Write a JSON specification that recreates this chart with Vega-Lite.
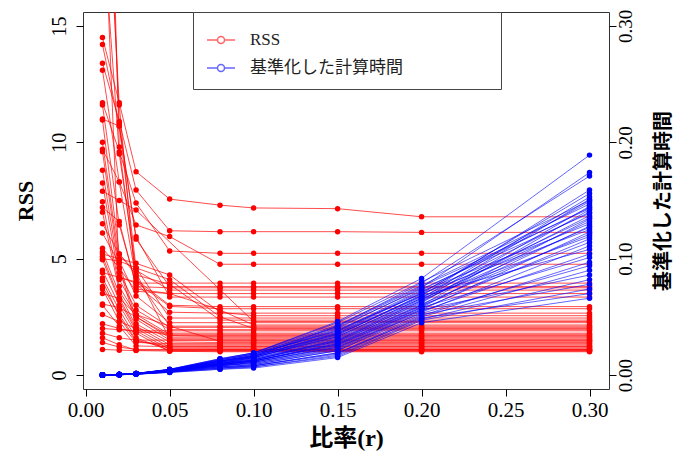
{
"$schema": "https://vega.github.io/schema/vega-lite/v6.json",
"width": 526, "height": 377,
"autosize": {"type": "none"},
"padding": {"left": 83, "top": 12, "right": 65, "bottom": 68},
"background": "white",
"datasets": {
"rss": [
{"s":"r1","r":0.01,"v":14.5},{"s":"r1","r":0.02,"v":11.7},{"s":"r1","r":0.03,"v":8.74},{"s":"r1","r":0.05,"v":7.56},{"s":"r1","r":0.08,"v":7.3},{"s":"r1","r":0.1,"v":7.18},{"s":"r1","r":0.15,"v":7.15},{"s":"r1","r":0.2,"v":6.8},{"s":"r1","r":0.3,"v":6.8},
{"s":"r2","r":0.01,"v":13.4},{"s":"r2","r":0.02,"v":10.9},{"s":"r2","r":0.03,"v":7.95},{"s":"r2","r":0.05,"v":6.2},{"s":"r2","r":0.08,"v":6.16},{"s":"r2","r":0.1,"v":6.16},{"s":"r2","r":0.15,"v":6.16},{"s":"r2","r":0.2,"v":6.13},{"s":"r2","r":0.3,"v":6.13},
{"s":"r3","r":0.01,"v":11.7},{"s":"r3","r":0.02,"v":9.6},{"s":"r3","r":0.03,"v":7.39},{"s":"r3","r":0.05,"v":5.33},{"s":"r3","r":0.08,"v":5.23},{"s":"r3","r":0.1,"v":5.23},{"s":"r3","r":0.15,"v":5.23},{"s":"r3","r":0.2,"v":5.23},{"s":"r3","r":0.3,"v":5.23},
{"s":"r4","r":0.01,"v":9.7},{"s":"r4","r":0.02,"v":8.3},{"s":"r4","r":0.03,"v":6.45},{"s":"r4","r":0.05,"v":5.95},{"s":"r4","r":0.08,"v":4.76},{"s":"r4","r":0.1,"v":4.76},{"s":"r4","r":0.15,"v":4.76},{"s":"r4","r":0.2,"v":4.76},{"s":"r4","r":0.3,"v":4.76},
{"s":"r5","r":0.01,"v":22.0},{"s":"r5","r":0.02,"v":4.2},{"s":"r5","r":0.03,"v":3.95},{"s":"r5","r":0.05,"v":3.95},{"s":"r5","r":0.08,"v":3.95},{"s":"r5","r":0.1,"v":3.95},{"s":"r5","r":0.15,"v":3.95},{"s":"r5","r":0.2,"v":3.95},{"s":"r5","r":0.3,"v":3.95},
{"s":"r6","r":0.01,"v":28.0},{"s":"r6","r":0.02,"v":10.8},{"s":"r6","r":0.03,"v":5.84},{"s":"r6","r":0.05,"v":3.8},{"s":"r6","r":0.08,"v":3.8},{"s":"r6","r":0.1,"v":3.8},{"s":"r6","r":0.15,"v":3.8},{"s":"r6","r":0.2,"v":3.8},{"s":"r6","r":0.3,"v":3.8},
{"s":"r7","r":0.01,"v":19.5},{"s":"r7","r":0.02,"v":9.5},{"s":"r7","r":0.03,"v":4.5},{"s":"r7","r":0.05,"v":3.65},{"s":"r7","r":0.08,"v":3.65},{"s":"r7","r":0.1,"v":3.65},{"s":"r7","r":0.15,"v":3.65},{"s":"r7","r":0.2,"v":3.65},{"s":"r7","r":0.3,"v":3.65},
{"s":"r8","r":0.01,"v":25.0},{"s":"r8","r":0.02,"v":11.6},{"s":"r8","r":0.03,"v":3.7},{"s":"r8","r":0.05,"v":3.5},{"s":"r8","r":0.08,"v":3.5},{"s":"r8","r":0.1,"v":3.5},{"s":"r8","r":0.15,"v":3.5},{"s":"r8","r":0.2,"v":3.5},{"s":"r8","r":0.3,"v":3.5},
{"s":"r9","r":0.01,"v":14.2},{"s":"r9","r":0.02,"v":10.7},{"s":"r9","r":0.03,"v":5.94},{"s":"r9","r":0.05,"v":3.35},{"s":"r9","r":0.08,"v":3.35},{"s":"r9","r":0.1,"v":3.35},{"s":"r9","r":0.15,"v":3.35},{"s":"r9","r":0.2,"v":3.35},{"s":"r9","r":0.3,"v":3.35},
{"s":"r10","r":0.01,"v":13.1},{"s":"r10","r":0.02,"v":8.3},{"s":"r10","r":0.03,"v":4.1},{"s":"r10","r":0.05,"v":3.0},{"s":"r10","r":0.08,"v":2.94},{"s":"r10","r":0.1,"v":2.94},{"s":"r10","r":0.15,"v":2.94},{"s":"r10","r":0.2,"v":2.94},{"s":"r10","r":0.3,"v":2.94},
{"s":"r11","r":0.01,"v":11.6},{"s":"r11","r":0.02,"v":6.45},{"s":"r11","r":0.03,"v":3.9},{"s":"r11","r":0.05,"v":2.7},{"s":"r11","r":0.08,"v":2.66},{"s":"r11","r":0.1,"v":2.66},{"s":"r11","r":0.15,"v":2.66},{"s":"r11","r":0.2,"v":2.66},{"s":"r11","r":0.3,"v":2.66},
{"s":"r12","r":0.01,"v":10.96},{"s":"r12","r":0.02,"v":5.2},{"s":"r12","r":0.03,"v":4.3},{"s":"r12","r":0.05,"v":3.9},{"s":"r12","r":0.08,"v":2.36},{"s":"r12","r":0.1,"v":2.36},{"s":"r12","r":0.15,"v":2.36},{"s":"r12","r":0.2,"v":2.36},{"s":"r12","r":0.3,"v":2.36},
{"s":"r13","r":0.01,"v":10.0},{"s":"r13","r":0.02,"v":4.9},{"s":"r13","r":0.03,"v":3.4},{"s":"r13","r":0.05,"v":2.25},{"s":"r13","r":0.08,"v":2.25},{"s":"r13","r":0.1,"v":2.25},{"s":"r13","r":0.15,"v":2.25},{"s":"r13","r":0.2,"v":2.25},{"s":"r13","r":0.3,"v":2.25},
{"s":"r14","r":0.01,"v":9.6},{"s":"r14","r":0.02,"v":4.6},{"s":"r14","r":0.03,"v":3.6},{"s":"r14","r":0.05,"v":3.5},{"s":"r14","r":0.08,"v":2.8},{"s":"r14","r":0.1,"v":2.15},{"s":"r14","r":0.15,"v":2.15},{"s":"r14","r":0.2,"v":2.15},{"s":"r14","r":0.3,"v":2.15},
{"s":"r15","r":0.01,"v":8.8},{"s":"r15","r":0.02,"v":4.4},{"s":"r15","r":0.03,"v":3.0},{"s":"r15","r":0.05,"v":2.05},{"s":"r15","r":0.08,"v":2.05},{"s":"r15","r":0.1,"v":2.05},{"s":"r15","r":0.15,"v":2.05},{"s":"r15","r":0.2,"v":2.05},{"s":"r15","r":0.3,"v":2.05},
{"s":"r16","r":0.01,"v":8.25},{"s":"r16","r":0.02,"v":4.1},{"s":"r16","r":0.03,"v":2.8},{"s":"r16","r":0.05,"v":1.95},{"s":"r16","r":0.08,"v":1.95},{"s":"r16","r":0.1,"v":1.95},{"s":"r16","r":0.15,"v":1.95},{"s":"r16","r":0.2,"v":1.95},{"s":"r16","r":0.3,"v":1.95},
{"s":"r17","r":0.01,"v":7.9},{"s":"r17","r":0.02,"v":7.5},{"s":"r17","r":0.03,"v":7.09},{"s":"r17","r":0.1,"v":2.3},{"s":"r17","r":0.15,"v":2.3},{"s":"r17","r":0.2,"v":2.3},{"s":"r17","r":0.3,"v":2.3},
{"s":"r18","r":0.01,"v":7.45},{"s":"r18","r":0.02,"v":3.8},{"s":"r18","r":0.03,"v":2.6},{"s":"r18","r":0.05,"v":1.75},{"s":"r18","r":0.08,"v":1.75},{"s":"r18","r":0.1,"v":1.75},{"s":"r18","r":0.15,"v":1.75},{"s":"r18","r":0.2,"v":1.75},{"s":"r18","r":0.3,"v":1.75},
{"s":"r19","r":0.01,"v":7.0},{"s":"r19","r":0.02,"v":3.6},{"s":"r19","r":0.03,"v":2.5},{"s":"r19","r":0.05,"v":1.68},{"s":"r19","r":0.08,"v":1.65},{"s":"r19","r":0.1,"v":1.65},{"s":"r19","r":0.15,"v":1.65},{"s":"r19","r":0.2,"v":1.65},{"s":"r19","r":0.3,"v":1.65},
{"s":"r20","r":0.01,"v":6.5},{"s":"r20","r":0.02,"v":5.2},{"s":"r20","r":0.03,"v":4.4},{"s":"r20","r":0.05,"v":1.55},{"s":"r20","r":0.08,"v":1.55},{"s":"r20","r":0.1,"v":1.55},{"s":"r20","r":0.15,"v":1.55},{"s":"r20","r":0.2,"v":1.55},{"s":"r20","r":0.3,"v":1.55},
{"s":"r21","r":0.01,"v":6.1},{"s":"r21","r":0.02,"v":4.8},{"s":"r21","r":0.03,"v":2.4},{"s":"r21","r":0.05,"v":1.5},{"s":"r21","r":0.08,"v":1.5},{"s":"r21","r":0.1,"v":1.5},{"s":"r21","r":0.15,"v":1.5},{"s":"r21","r":0.2,"v":1.5},{"s":"r21","r":0.3,"v":1.5},
{"s":"r22","r":0.01,"v":5.45},{"s":"r22","r":0.02,"v":4.6},{"s":"r22","r":0.03,"v":2.2},{"s":"r22","r":0.05,"v":1.42},{"s":"r22","r":0.08,"v":1.4},{"s":"r22","r":0.1,"v":1.4},{"s":"r22","r":0.15,"v":1.4},{"s":"r22","r":0.2,"v":1.4},{"s":"r22","r":0.3,"v":1.4},
{"s":"r23","r":0.01,"v":5.3},{"s":"r23","r":0.02,"v":3.5},{"s":"r23","r":0.03,"v":2.1},{"s":"r23","r":0.05,"v":1.3},{"s":"r23","r":0.08,"v":1.3},{"s":"r23","r":0.1,"v":1.3},{"s":"r23","r":0.15,"v":1.3},{"s":"r23","r":0.2,"v":1.3},{"s":"r23","r":0.3,"v":1.3},
{"s":"r24","r":0.01,"v":5.1},{"s":"r24","r":0.02,"v":3.3},{"s":"r24","r":0.03,"v":2.0},{"s":"r24","r":0.05,"v":1.2},{"s":"r24","r":0.08,"v":1.2},{"s":"r24","r":0.1,"v":1.2},{"s":"r24","r":0.15,"v":1.2},{"s":"r24","r":0.2,"v":1.2},{"s":"r24","r":0.3,"v":1.2},
{"s":"r25","r":0.01,"v":4.95},{"s":"r25","r":0.02,"v":3.2},{"s":"r25","r":0.03,"v":1.9},{"s":"r25","r":0.05,"v":1.1},{"s":"r25","r":0.08,"v":1.1},{"s":"r25","r":0.1,"v":1.1},{"s":"r25","r":0.15,"v":1.1},{"s":"r25","r":0.2,"v":1.1},{"s":"r25","r":0.3,"v":1.1},
{"s":"r26","r":0.01,"v":4.5},{"s":"r26","r":0.02,"v":3.0},{"s":"r26","r":0.03,"v":1.8},{"s":"r26","r":0.05,"v":1.02},{"s":"r26","r":0.08,"v":1.0},{"s":"r26","r":0.1,"v":1.0},{"s":"r26","r":0.15,"v":1.0},{"s":"r26","r":0.2,"v":1.0},{"s":"r26","r":0.3,"v":1.0},
{"s":"r27","r":0.01,"v":4.17},{"s":"r27","r":0.02,"v":2.8},{"s":"r27","r":0.03,"v":1.6},{"s":"r27","r":0.05,"v":1.05},{"s":"r27","r":0.08,"v":1.05},{"s":"r27","r":0.1,"v":1.05},{"s":"r27","r":0.15,"v":1.05},{"s":"r27","r":0.2,"v":1.05},{"s":"r27","r":0.3,"v":1.05},
{"s":"r28","r":0.01,"v":3.8},{"s":"r28","r":0.02,"v":2.6},{"s":"r28","r":0.03,"v":1.5},{"s":"r28","r":0.05,"v":1.15},{"s":"r28","r":0.08,"v":1.15},{"s":"r28","r":0.1,"v":1.15},{"s":"r28","r":0.15,"v":1.15},{"s":"r28","r":0.2,"v":1.15},{"s":"r28","r":0.3,"v":1.15},
{"s":"r29","r":0.01,"v":4.05},{"s":"r29","r":0.02,"v":2.5},{"s":"r29","r":0.03,"v":1.45},{"s":"r29","r":0.05,"v":1.25},{"s":"r29","r":0.08,"v":1.25},{"s":"r29","r":0.1,"v":1.25},{"s":"r29","r":0.15,"v":1.25},{"s":"r29","r":0.2,"v":1.25},{"s":"r29","r":0.3,"v":1.25},
{"s":"r30","r":0.01,"v":3.7},{"s":"r30","r":0.02,"v":2.3},{"s":"r30","r":0.03,"v":1.4},{"s":"r30","r":0.05,"v":1.35},{"s":"r30","r":0.08,"v":1.35},{"s":"r30","r":0.1,"v":1.35},{"s":"r30","r":0.15,"v":1.35},{"s":"r30","r":0.2,"v":1.35},{"s":"r30","r":0.3,"v":1.35},
{"s":"r31","r":0.01,"v":3.5},{"s":"r31","r":0.02,"v":3.3},{"s":"r31","r":0.03,"v":2.6},{"s":"r31","r":0.05,"v":2.1},{"s":"r31","r":0.08,"v":1.45},{"s":"r31","r":0.1,"v":1.45},{"s":"r31","r":0.15,"v":1.45},{"s":"r31","r":0.2,"v":1.45},{"s":"r31","r":0.3,"v":1.45},
{"s":"r32","r":0.01,"v":3.05},{"s":"r32","r":0.02,"v":2.9},{"s":"r32","r":0.03,"v":2.5},{"s":"r32","r":0.05,"v":1.6},{"s":"r32","r":0.08,"v":1.6},{"s":"r32","r":0.1,"v":1.6},{"s":"r32","r":0.15,"v":1.6},{"s":"r32","r":0.2,"v":1.6},{"s":"r32","r":0.3,"v":1.6},
{"s":"r33","r":0.01,"v":2.6},{"s":"r33","r":0.02,"v":2.3},{"s":"r33","r":0.03,"v":2.0},{"s":"r33","r":0.05,"v":1.7},{"s":"r33","r":0.08,"v":1.7},{"s":"r33","r":0.1,"v":1.7},{"s":"r33","r":0.15,"v":1.7},{"s":"r33","r":0.2,"v":1.7},{"s":"r33","r":0.3,"v":1.7},
{"s":"r34","r":0.01,"v":2.2},{"s":"r34","r":0.02,"v":2.0},{"s":"r34","r":0.03,"v":1.85},{"s":"r34","r":0.05,"v":1.8},{"s":"r34","r":0.08,"v":1.8},{"s":"r34","r":0.1,"v":1.8},{"s":"r34","r":0.15,"v":1.8},{"s":"r34","r":0.2,"v":1.8},{"s":"r34","r":0.3,"v":1.8},
{"s":"r35","r":0.01,"v":2.0},{"s":"r35","r":0.02,"v":1.95},{"s":"r35","r":0.03,"v":1.9},{"s":"r35","r":0.05,"v":1.9},{"s":"r35","r":0.08,"v":1.9},{"s":"r35","r":0.1,"v":1.9},{"s":"r35","r":0.15,"v":1.9},{"s":"r35","r":0.2,"v":1.9},{"s":"r35","r":0.3,"v":1.9},
{"s":"r36","r":0.01,"v":1.8},{"s":"r36","r":0.02,"v":1.6},{"s":"r36","r":0.03,"v":1.5},{"s":"r36","r":0.05,"v":1.5},{"s":"r36","r":0.08,"v":1.5},{"s":"r36","r":0.1,"v":1.5},{"s":"r36","r":0.15,"v":1.5},{"s":"r36","r":0.2,"v":1.5},{"s":"r36","r":0.3,"v":1.5},
{"s":"r37","r":0.01,"v":1.6},{"s":"r37","r":0.02,"v":1.3},{"s":"r37","r":0.03,"v":1.07},{"s":"r37","r":0.05,"v":1.07},{"s":"r37","r":0.08,"v":1.07},{"s":"r37","r":0.1,"v":1.07},{"s":"r37","r":0.15,"v":1.07},{"s":"r37","r":0.2,"v":1.07},{"s":"r37","r":0.3,"v":1.07},
{"s":"r38","r":0.01,"v":1.4},{"s":"r38","r":0.02,"v":1.2},{"s":"r38","r":0.03,"v":1.1},{"s":"r38","r":0.05,"v":1.1},{"s":"r38","r":0.08,"v":1.1},{"s":"r38","r":0.1,"v":1.1},{"s":"r38","r":0.15,"v":1.1},{"s":"r38","r":0.2,"v":1.1},{"s":"r38","r":0.3,"v":1.1},
{"s":"r39","r":0.01,"v":1.1},{"s":"r39","r":0.02,"v":1.07},{"s":"r39","r":0.03,"v":1.05},{"s":"r39","r":0.05,"v":1.03},{"s":"r39","r":0.08,"v":1.03},{"s":"r39","r":0.1,"v":1.03},{"s":"r39","r":0.15,"v":1.03},{"s":"r39","r":0.2,"v":1.03},{"s":"r39","r":0.3,"v":1.03},
{"s":"r40","r":0.01,"v":4.4},{"s":"r40","r":0.02,"v":4.2},{"s":"r40","r":0.03,"v":4.0},{"s":"r40","r":0.05,"v":2.95},{"s":"r40","r":0.08,"v":2.85},{"s":"r40","r":0.1,"v":2.85},{"s":"r40","r":0.15,"v":2.85},{"s":"r40","r":0.2,"v":2.85},{"s":"r40","r":0.3,"v":2.85},
{"s":"r41","r":0.01,"v":5.0},{"s":"r41","r":0.02,"v":4.9},{"s":"r41","r":0.03,"v":4.6},{"s":"r41","r":0.05,"v":4.1},{"s":"r41","r":0.08,"v":2.5},{"s":"r41","r":0.1,"v":2.0},{"s":"r41","r":0.15,"v":2.0},{"s":"r41","r":0.2,"v":2.0},{"s":"r41","r":0.3,"v":2.0},
{"s":"r42","r":0.01,"v":5.2},{"s":"r42","r":0.02,"v":5.0},{"s":"r42","r":0.03,"v":4.8},{"s":"r42","r":0.05,"v":4.3},{"s":"r42","r":0.08,"v":2.7},{"s":"r42","r":0.1,"v":2.55},{"s":"r42","r":0.15,"v":2.55},{"s":"r42","r":0.2,"v":2.55},{"s":"r42","r":0.3,"v":2.55},
{"s":"r43","r":0.01,"v":7.2},{"s":"r43","r":0.02,"v":6.6},{"s":"r43","r":0.03,"v":3.8},{"s":"r43","r":0.05,"v":3.75},{"s":"r43","r":0.08,"v":3.75},{"s":"r43","r":0.1,"v":3.75},{"s":"r43","r":0.15,"v":3.75},{"s":"r43","r":0.2,"v":3.75},{"s":"r43","r":0.3,"v":3.75},
{"s":"r44","r":0.01,"v":35.0},{"s":"r44","r":0.02,"v":9.8},{"s":"r44","r":0.03,"v":4.2},{"s":"r44","r":0.05,"v":2.1},{"s":"r44","r":0.08,"v":2.1},{"s":"r44","r":0.1,"v":2.1},{"s":"r44","r":0.15,"v":2.1},{"s":"r44","r":0.2,"v":2.1},{"s":"r44","r":0.3,"v":2.1},
{"s":"r45","r":0.01,"v":11.0},{"s":"r45","r":0.02,"v":10.7},{"s":"r45","r":0.03,"v":4.6},{"s":"r45","r":0.05,"v":2.45},{"s":"r45","r":0.08,"v":2.45},{"s":"r45","r":0.1,"v":2.45},{"s":"r45","r":0.15,"v":2.45},{"s":"r45","r":0.2,"v":2.45},{"s":"r45","r":0.3,"v":2.45},
{"s":"r46","r":0.01,"v":3.0},{"s":"r46","r":0.02,"v":2.1},{"s":"r46","r":0.03,"v":1.25},{"s":"r46","r":0.05,"v":1.22},{"s":"r46","r":0.08,"v":1.22},{"s":"r46","r":0.1,"v":1.22},{"s":"r46","r":0.15,"v":1.22},{"s":"r46","r":0.2,"v":1.22},{"s":"r46","r":0.3,"v":1.22}
],
"time": [
{"s":"b1","r":0.01,"v":0},{"s":"b1","r":0.02,"v":0.0005},{"s":"b1","r":0.03,"v":0.0014},{"s":"b1","r":0.05,"v":0.0048},{"s":"b1","r":0.08,"v":0.0135},{"s":"b1","r":0.1,"v":0.019},{"s":"b1","r":0.15,"v":0.046},{"s":"b1","r":0.2,"v":0.083},{"s":"b1","r":0.3,"v":0.189},
{"s":"b2","r":0.01,"v":0},{"s":"b2","r":0.02,"v":0.0005},{"s":"b2","r":0.03,"v":0.0013},{"s":"b2","r":0.05,"v":0.0045},{"s":"b2","r":0.08,"v":0.012},{"s":"b2","r":0.1,"v":0.017},{"s":"b2","r":0.15,"v":0.040},{"s":"b2","r":0.2,"v":0.075},{"s":"b2","r":0.3,"v":0.174},
{"s":"b3","r":0.01,"v":0},{"s":"b3","r":0.02,"v":0.0004},{"s":"b3","r":0.03,"v":0.0012},{"s":"b3","r":0.05,"v":0.0042},{"s":"b3","r":0.08,"v":0.011},{"s":"b3","r":0.1,"v":0.016},{"s":"b3","r":0.15,"v":0.042},{"s":"b3","r":0.2,"v":0.079},{"s":"b3","r":0.3,"v":0.171},
{"s":"b4","r":0.01,"v":0},{"s":"b4","r":0.02,"v":0.0004},{"s":"b4","r":0.03,"v":0.0011},{"s":"b4","r":0.05,"v":0.0040},{"s":"b4","r":0.08,"v":0.010},{"s":"b4","r":0.1,"v":0.015},{"s":"b4","r":0.15,"v":0.035},{"s":"b4","r":0.2,"v":0.068},{"s":"b4","r":0.3,"v":0.159},
{"s":"b5","r":0.01,"v":0},{"s":"b5","r":0.02,"v":0.0005},{"s":"b5","r":0.03,"v":0.0013},{"s":"b5","r":0.05,"v":0.0046},{"s":"b5","r":0.08,"v":0.013},{"s":"b5","r":0.1,"v":0.018},{"s":"b5","r":0.15,"v":0.038},{"s":"b5","r":0.2,"v":0.070},{"s":"b5","r":0.3,"v":0.156},
{"s":"b6","r":0.01,"v":0},{"s":"b6","r":0.02,"v":0.0004},{"s":"b6","r":0.03,"v":0.0011},{"s":"b6","r":0.05,"v":0.0041},{"s":"b6","r":0.08,"v":0.011},{"s":"b6","r":0.1,"v":0.015},{"s":"b6","r":0.15,"v":0.033},{"s":"b6","r":0.2,"v":0.066},{"s":"b6","r":0.3,"v":0.153},
{"s":"b7","r":0.01,"v":0},{"s":"b7","r":0.02,"v":0.0003},{"s":"b7","r":0.03,"v":0.0010},{"s":"b7","r":0.05,"v":0.0036},{"s":"b7","r":0.08,"v":0.009},{"s":"b7","r":0.1,"v":0.013},{"s":"b7","r":0.15,"v":0.031},{"s":"b7","r":0.2,"v":0.064},{"s":"b7","r":0.3,"v":0.151},
{"s":"b8","r":0.01,"v":0},{"s":"b8","r":0.02,"v":0.0004},{"s":"b8","r":0.03,"v":0.0012},{"s":"b8","r":0.05,"v":0.0043},{"s":"b8","r":0.08,"v":0.012},{"s":"b8","r":0.1,"v":0.016},{"s":"b8","r":0.15,"v":0.036},{"s":"b8","r":0.2,"v":0.071},{"s":"b8","r":0.3,"v":0.149},
{"s":"b9","r":0.01,"v":0},{"s":"b9","r":0.02,"v":0.0005},{"s":"b9","r":0.03,"v":0.0014},{"s":"b9","r":0.05,"v":0.0048},{"s":"b9","r":0.08,"v":0.014},{"s":"b9","r":0.1,"v":0.019},{"s":"b9","r":0.15,"v":0.043},{"s":"b9","r":0.2,"v":0.077},{"s":"b9","r":0.3,"v":0.147},
{"s":"b10","r":0.01,"v":0},{"s":"b10","r":0.02,"v":0.0004},{"s":"b10","r":0.03,"v":0.0011},{"s":"b10","r":0.05,"v":0.0039},{"s":"b10","r":0.08,"v":0.010},{"s":"b10","r":0.1,"v":0.014},{"s":"b10","r":0.15,"v":0.030},{"s":"b10","r":0.2,"v":0.062},{"s":"b10","r":0.3,"v":0.145},
{"s":"b11","r":0.01,"v":0},{"s":"b11","r":0.02,"v":0.0004},{"s":"b11","r":0.03,"v":0.0012},{"s":"b11","r":0.05,"v":0.0044},{"s":"b11","r":0.08,"v":0.012},{"s":"b11","r":0.1,"v":0.017},{"s":"b11","r":0.15,"v":0.038},{"s":"b11","r":0.2,"v":0.073},{"s":"b11","r":0.3,"v":0.144},
{"s":"b12","r":0.01,"v":0},{"s":"b12","r":0.02,"v":0.0003},{"s":"b12","r":0.03,"v":0.0010},{"s":"b12","r":0.05,"v":0.0035},{"s":"b12","r":0.08,"v":0.009},{"s":"b12","r":0.1,"v":0.012},{"s":"b12","r":0.15,"v":0.027},{"s":"b12","r":0.2,"v":0.060},{"s":"b12","r":0.3,"v":0.142},
{"s":"b13","r":0.01,"v":0},{"s":"b13","r":0.02,"v":0.0004},{"s":"b13","r":0.03,"v":0.0011},{"s":"b13","r":0.05,"v":0.0040},{"s":"b13","r":0.08,"v":0.010},{"s":"b13","r":0.1,"v":0.015},{"s":"b13","r":0.15,"v":0.034},{"s":"b13","r":0.2,"v":0.069},{"s":"b13","r":0.3,"v":0.140},
{"s":"b14","r":0.01,"v":0},{"s":"b14","r":0.02,"v":0.0005},{"s":"b14","r":0.03,"v":0.0013},{"s":"b14","r":0.05,"v":0.0046},{"s":"b14","r":0.08,"v":0.013},{"s":"b14","r":0.1,"v":0.018},{"s":"b14","r":0.15,"v":0.041},{"s":"b14","r":0.2,"v":0.074},{"s":"b14","r":0.3,"v":0.139},
{"s":"b15","r":0.01,"v":0},{"s":"b15","r":0.02,"v":0.0004},{"s":"b15","r":0.03,"v":0.0010},{"s":"b15","r":0.05,"v":0.0038},{"s":"b15","r":0.08,"v":0.010},{"s":"b15","r":0.1,"v":0.013},{"s":"b15","r":0.15,"v":0.029},{"s":"b15","r":0.2,"v":0.063},{"s":"b15","r":0.3,"v":0.137},
{"s":"b16","r":0.01,"v":0},{"s":"b16","r":0.02,"v":0.0004},{"s":"b16","r":0.03,"v":0.0012},{"s":"b16","r":0.05,"v":0.0042},{"s":"b16","r":0.08,"v":0.011},{"s":"b16","r":0.1,"v":0.016},{"s":"b16","r":0.15,"v":0.035},{"s":"b16","r":0.2,"v":0.067},{"s":"b16","r":0.3,"v":0.135},
{"s":"b17","r":0.01,"v":0},{"s":"b17","r":0.02,"v":0.0003},{"s":"b17","r":0.03,"v":0.0009},{"s":"b17","r":0.05,"v":0.0033},{"s":"b17","r":0.08,"v":0.008},{"s":"b17","r":0.1,"v":0.011},{"s":"b17","r":0.15,"v":0.025},{"s":"b17","r":0.2,"v":0.058},{"s":"b17","r":0.3,"v":0.134},
{"s":"b18","r":0.01,"v":0},{"s":"b18","r":0.02,"v":0.0004},{"s":"b18","r":0.03,"v":0.0011},{"s":"b18","r":0.05,"v":0.0040},{"s":"b18","r":0.08,"v":0.010},{"s":"b18","r":0.1,"v":0.014},{"s":"b18","r":0.15,"v":0.032},{"s":"b18","r":0.2,"v":0.065},{"s":"b18","r":0.3,"v":0.132},
{"s":"b19","r":0.01,"v":0},{"s":"b19","r":0.02,"v":0.0004},{"s":"b19","r":0.03,"v":0.0012},{"s":"b19","r":0.05,"v":0.0043},{"s":"b19","r":0.08,"v":0.012},{"s":"b19","r":0.1,"v":0.016},{"s":"b19","r":0.15,"v":0.037},{"s":"b19","r":0.2,"v":0.072},{"s":"b19","r":0.3,"v":0.130},
{"s":"b20","r":0.01,"v":0},{"s":"b20","r":0.02,"v":0.0003},{"s":"b20","r":0.03,"v":0.0010},{"s":"b20","r":0.05,"v":0.0035},{"s":"b20","r":0.08,"v":0.009},{"s":"b20","r":0.1,"v":0.012},{"s":"b20","r":0.15,"v":0.026},{"s":"b20","r":0.2,"v":0.059},{"s":"b20","r":0.3,"v":0.128},
{"s":"b21","r":0.01,"v":0},{"s":"b21","r":0.02,"v":0.0004},{"s":"b21","r":0.03,"v":0.0010},{"s":"b21","r":0.05,"v":0.0038},{"s":"b21","r":0.08,"v":0.010},{"s":"b21","r":0.1,"v":0.013},{"s":"b21","r":0.15,"v":0.030},{"s":"b21","r":0.2,"v":0.064},{"s":"b21","r":0.3,"v":0.127},
{"s":"b22","r":0.01,"v":0},{"s":"b22","r":0.02,"v":0.0005},{"s":"b22","r":0.03,"v":0.0013},{"s":"b22","r":0.05,"v":0.0045},{"s":"b22","r":0.08,"v":0.012},{"s":"b22","r":0.1,"v":0.017},{"s":"b22","r":0.15,"v":0.039},{"s":"b22","r":0.2,"v":0.070},{"s":"b22","r":0.3,"v":0.125},
{"s":"b23","r":0.01,"v":0},{"s":"b23","r":0.02,"v":0.0003},{"s":"b23","r":0.03,"v":0.0009},{"s":"b23","r":0.05,"v":0.0032},{"s":"b23","r":0.08,"v":0.008},{"s":"b23","r":0.1,"v":0.010},{"s":"b23","r":0.15,"v":0.023},{"s":"b23","r":0.2,"v":0.056},{"s":"b23","r":0.3,"v":0.123},
{"s":"b24","r":0.01,"v":0},{"s":"b24","r":0.02,"v":0.0004},{"s":"b24","r":0.03,"v":0.0010},{"s":"b24","r":0.05,"v":0.0037},{"s":"b24","r":0.08,"v":0.009},{"s":"b24","r":0.1,"v":0.012},{"s":"b24","r":0.15,"v":0.028},{"s":"b24","r":0.2,"v":0.061},{"s":"b24","r":0.3,"v":0.121},
{"s":"b25","r":0.01,"v":0},{"s":"b25","r":0.02,"v":0.0004},{"s":"b25","r":0.03,"v":0.0011},{"s":"b25","r":0.05,"v":0.0041},{"s":"b25","r":0.08,"v":0.011},{"s":"b25","r":0.1,"v":0.015},{"s":"b25","r":0.15,"v":0.033},{"s":"b25","r":0.2,"v":0.066},{"s":"b25","r":0.3,"v":0.119},
{"s":"b26","r":0.01,"v":0},{"s":"b26","r":0.02,"v":0.0003},{"s":"b26","r":0.03,"v":0.0009},{"s":"b26","r":0.05,"v":0.0034},{"s":"b26","r":0.08,"v":0.008},{"s":"b26","r":0.1,"v":0.011},{"s":"b26","r":0.15,"v":0.024},{"s":"b26","r":0.2,"v":0.057},{"s":"b26","r":0.3,"v":0.117},
{"s":"b27","r":0.01,"v":0},{"s":"b27","r":0.02,"v":0.0004},{"s":"b27","r":0.03,"v":0.0010},{"s":"b27","r":0.05,"v":0.0038},{"s":"b27","r":0.08,"v":0.009},{"s":"b27","r":0.1,"v":0.013},{"s":"b27","r":0.15,"v":0.029},{"s":"b27","r":0.2,"v":0.060},{"s":"b27","r":0.3,"v":0.114},
{"s":"b28","r":0.01,"v":0},{"s":"b28","r":0.02,"v":0.0003},{"s":"b28","r":0.03,"v":0.0008},{"s":"b28","r":0.05,"v":0.0030},{"s":"b28","r":0.08,"v":0.007},{"s":"b28","r":0.1,"v":0.009},{"s":"b28","r":0.15,"v":0.021},{"s":"b28","r":0.2,"v":0.054},{"s":"b28","r":0.3,"v":0.111},
{"s":"b29","r":0.01,"v":0},{"s":"b29","r":0.02,"v":0.0004},{"s":"b29","r":0.03,"v":0.0012},{"s":"b29","r":0.05,"v":0.0044},{"s":"b29","r":0.08,"v":0.012},{"s":"b29","r":0.1,"v":0.016},{"s":"b29","r":0.15,"v":0.036},{"s":"b29","r":0.2,"v":0.068},{"s":"b29","r":0.3,"v":0.108},
{"s":"b30","r":0.01,"v":0},{"s":"b30","r":0.02,"v":0.0003},{"s":"b30","r":0.03,"v":0.0009},{"s":"b30","r":0.05,"v":0.0032},{"s":"b30","r":0.08,"v":0.008},{"s":"b30","r":0.1,"v":0.010},{"s":"b30","r":0.15,"v":0.022},{"s":"b30","r":0.2,"v":0.055},{"s":"b30","r":0.3,"v":0.104},
{"s":"b31","r":0.01,"v":0},{"s":"b31","r":0.02,"v":0.0004},{"s":"b31","r":0.03,"v":0.0010},{"s":"b31","r":0.05,"v":0.0036},{"s":"b31","r":0.08,"v":0.009},{"s":"b31","r":0.1,"v":0.012},{"s":"b31","r":0.15,"v":0.027},{"s":"b31","r":0.2,"v":0.058},{"s":"b31","r":0.3,"v":0.101},
{"s":"b32","r":0.01,"v":0},{"s":"b32","r":0.02,"v":0.0003},{"s":"b32","r":0.03,"v":0.0008},{"s":"b32","r":0.05,"v":0.0028},{"s":"b32","r":0.08,"v":0.007},{"s":"b32","r":0.1,"v":0.008},{"s":"b32","r":0.15,"v":0.019},{"s":"b32","r":0.2,"v":0.051},{"s":"b32","r":0.3,"v":0.097},
{"s":"b33","r":0.01,"v":0},{"s":"b33","r":0.02,"v":0.0003},{"s":"b33","r":0.03,"v":0.0009},{"s":"b33","r":0.05,"v":0.0034},{"s":"b33","r":0.08,"v":0.008},{"s":"b33","r":0.1,"v":0.011},{"s":"b33","r":0.15,"v":0.024},{"s":"b33","r":0.2,"v":0.053},{"s":"b33","r":0.3,"v":0.094},
{"s":"b34","r":0.01,"v":0},{"s":"b34","r":0.02,"v":0.0003},{"s":"b34","r":0.03,"v":0.0008},{"s":"b34","r":0.05,"v":0.0027},{"s":"b34","r":0.08,"v":0.006},{"s":"b34","r":0.1,"v":0.008},{"s":"b34","r":0.15,"v":0.018},{"s":"b34","r":0.2,"v":0.050},{"s":"b34","r":0.3,"v":0.090},
{"s":"b35","r":0.01,"v":0},{"s":"b35","r":0.02,"v":0.0004},{"s":"b35","r":0.03,"v":0.0010},{"s":"b35","r":0.05,"v":0.0037},{"s":"b35","r":0.08,"v":0.009},{"s":"b35","r":0.1,"v":0.012},{"s":"b35","r":0.15,"v":0.026},{"s":"b35","r":0.2,"v":0.056},{"s":"b35","r":0.3,"v":0.086},
{"s":"b36","r":0.01,"v":0},{"s":"b36","r":0.02,"v":0.0003},{"s":"b36","r":0.03,"v":0.0008},{"s":"b36","r":0.05,"v":0.0025},{"s":"b36","r":0.08,"v":0.006},{"s":"b36","r":0.1,"v":0.007},{"s":"b36","r":0.15,"v":0.017},{"s":"b36","r":0.2,"v":0.048},{"s":"b36","r":0.3,"v":0.082},
{"s":"b37","r":0.01,"v":0},{"s":"b37","r":0.02,"v":0.0003},{"s":"b37","r":0.03,"v":0.0008},{"s":"b37","r":0.05,"v":0.0030},{"s":"b37","r":0.08,"v":0.007},{"s":"b37","r":0.1,"v":0.009},{"s":"b37","r":0.15,"v":0.021},{"s":"b37","r":0.2,"v":0.052},{"s":"b37","r":0.3,"v":0.078},
{"s":"b38","r":0.01,"v":0},{"s":"b38","r":0.02,"v":0.0003},{"s":"b38","r":0.03,"v":0.0007},{"s":"b38","r":0.05,"v":0.0024},{"s":"b38","r":0.08,"v":0.005},{"s":"b38","r":0.1,"v":0.007},{"s":"b38","r":0.15,"v":0.016},{"s":"b38","r":0.2,"v":0.047},{"s":"b38","r":0.3,"v":0.074},
{"s":"b39","r":0.01,"v":0},{"s":"b39","r":0.02,"v":0.0003},{"s":"b39","r":0.03,"v":0.0008},{"s":"b39","r":0.05,"v":0.0028},{"s":"b39","r":0.08,"v":0.006},{"s":"b39","r":0.1,"v":0.008},{"s":"b39","r":0.15,"v":0.019},{"s":"b39","r":0.2,"v":0.049},{"s":"b39","r":0.3,"v":0.070},
{"s":"b40","r":0.01,"v":0},{"s":"b40","r":0.02,"v":0.0002},{"s":"b40","r":0.03,"v":0.0007},{"s":"b40","r":0.05,"v":0.0022},{"s":"b40","r":0.08,"v":0.005},{"s":"b40","r":0.1,"v":0.006},{"s":"b40","r":0.15,"v":0.015},{"s":"b40","r":0.2,"v":0.045},{"s":"b40","r":0.3,"v":0.066},
{"s":"b41","r":0.01,"v":0},{"s":"b41","r":0.02,"v":0.0005},{"s":"b41","r":0.03,"v":0.0014},{"s":"b41","r":0.05,"v":0.0050},{"s":"b41","r":0.08,"v":0.014},{"s":"b41","r":0.1,"v":0.019},{"s":"b41","r":0.15,"v":0.045},{"s":"b41","r":0.2,"v":0.080},{"s":"b41","r":0.3,"v":0.150},
{"s":"b42","r":0.01,"v":0},{"s":"b42","r":0.02,"v":0.0004},{"s":"b42","r":0.03,"v":0.0012},{"s":"b42","r":0.05,"v":0.0046},{"s":"b42","r":0.08,"v":0.013},{"s":"b42","r":0.1,"v":0.018},{"s":"b42","r":0.15,"v":0.042},{"s":"b42","r":0.2,"v":0.076},{"s":"b42","r":0.3,"v":0.143}
]
},
"config": {
  "view": {"stroke": "#333", "strokeWidth": 1},
  "axis": {"grid": false, "domain": false, "tickColor": "#000", "tickSize": 7, "tickWidth": 1, "labelColor": "#000", "titleColor": "#000", "labelFont": "Liberation Serif", "labelFontSize": 20}
},
"encoding": {
  "x": {"field": "r", "type": "quantitative",
    "scale": {"domain": [-0.0016, 0.3116], "nice": false, "zero": false},
    "axis": {"values": [0, 0.05, 0.1, 0.15, 0.2, 0.25, 0.3], "format": ".2f", "labelFontSize": 21, "labelPadding": 3, "labelFlush": false, "labelOverlap": false,
      "title": "比率(r)", "titleFont": "Liberation Serif, Noto Sans CJK JP", "titleFontSize": 24, "titleFontWeight": "bold", "titlePadding": 6}},
  "detail": {"field": "s", "type": "nominal"}
},
"layer": [
  {
    "data": {"name": "rss"},
    "encoding": {
      "y": {"field": "v", "type": "quantitative",
        "scale": {"domain": [-0.6, 15.6], "nice": false, "zero": false},
        "axis": {"orient": "left", "values": [0, 5, 10, 15], "labelAngle": -90, "labelAlign": "center", "labelBaseline": "bottom", "labelPadding": 7, "labelFlush": false, "labelOverlap": false,
          "title": "RSS", "titleFont": "Liberation Serif", "titleFontSize": 22, "titleFontWeight": "bold", "titlePadding": 12}}
    },
    "layer": [
      {"mark": {"type": "line", "clip": true, "strokeWidth": 1, "opacity": 0.7},
       "encoding": {"color": {"datum": "RSS", "type": "nominal",
        "scale": {"domain": ["RSS", "基準化した計算時間"], "range": ["#FF0000", "#0000FF"]},
        "legend": {"orient": "none", "legendX": 110, "legendY": 0, "title": null,
          "symbolType": "M-1,0L-0.25,0M0.25,0L1,0M-0.25,0A0.25,0.25 0 1,0 0.25,0A0.25,0.25 0 1,0 -0.25,0",
          "symbolSize": 784, "symbolStrokeWidth": 1.5, "symbolOpacity": 1, "symbolFillColor": "transparent", "labelFont": "Liberation Serif, Noto Sans CJK JP", "labelFontSize": 17, "labelColor": "#222",
          "labelOffset": 14, "labelLimit": 600, "rowPadding": 5, "padding": 13, "strokeColor": "#444", "fillColor": "white",
          "labelExpr": "datum.label == 'RSS' ? 'RSS' : datum.label + '\u3000\u3000\u3000\u3000\u3000\u200b'"}}}},
      {"mark": {"type": "point", "filled": true, "size": 30, "opacity": 1, "clip": true, "color": "#FF0000"}}
    ]
  },
  {
    "data": {"name": "time"},
    "encoding": {
      "y": {"field": "v", "type": "quantitative",
        "scale": {"domain": [-0.012, 0.312], "nice": false, "zero": false},
        "axis": {"orient": "right", "values": [0, 0.1, 0.2, 0.3], "format": ".2f", "labelAngle": -90, "labelAlign": "center", "labelBaseline": "top", "labelPadding": 0, "labelFontSize": 19, "labelFlush": false, "labelOverlap": false,
          "title": "基準化した計算時間", "titleFont": "Noto Sans CJK JP", "titleFontSize": 20, "titleFontWeight": "bold", "titleAngle": -90, "titleBaseline": "top", "titlePadding": 18}}
    },
    "layer": [
      {"mark": {"type": "line", "clip": true, "strokeWidth": 1, "opacity": 0.6},
       "encoding": {"color": {"datum": "基準化した計算時間", "type": "nominal",
        "scale": {"domain": ["RSS", "基準化した計算時間"], "range": ["#FF0000", "#0000FF"]}}}},
      {"mark": {"type": "point", "filled": true, "size": 30, "opacity": 1, "clip": true, "color": "#0000FF"}}
    ]
  }
],
"resolve": {"scale": {"y": "independent"}}
}
